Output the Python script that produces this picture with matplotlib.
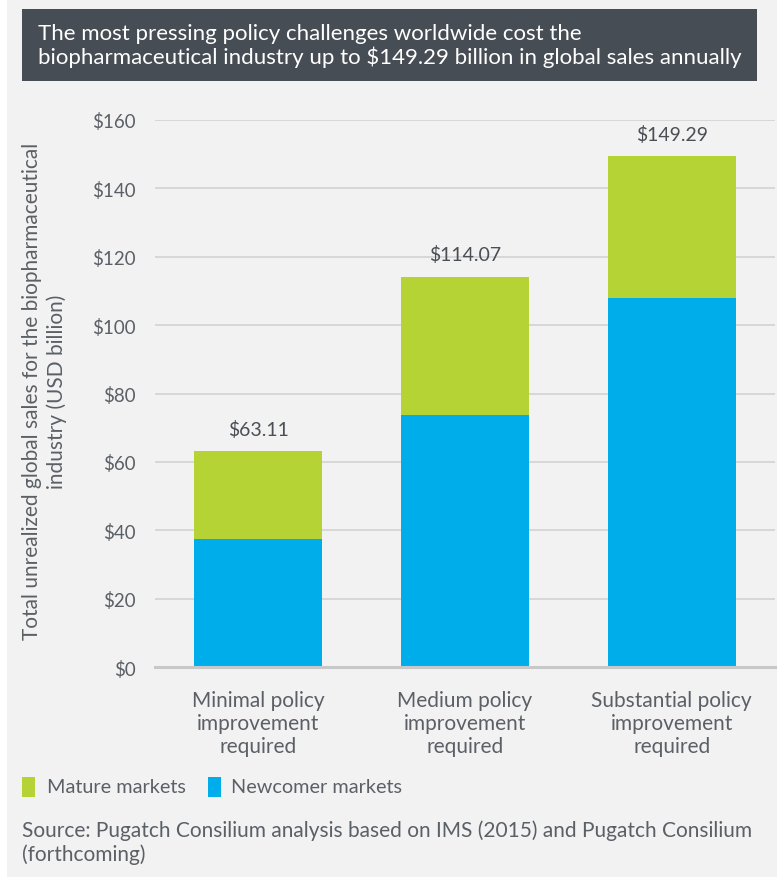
import matplotlib
matplotlib.use("Agg")
from matplotlib import pyplot as plt
from matplotlib.patches import Rectangle

plt.rcParams['font.family'] = ['Lato', 'DejaVu Sans']

#--- Data
categories = ["Minimal policy\nimprovement\nrequired",
              "Medium policy\nimprovement\nrequired",
              "Substantial policy\nimprovement\nrequired"]
newcomer = [37.5, 73.7, 107.8]
totals = [63.11, 114.07, 149.29]
mature = [t - n for t, n in zip(totals, newcomer)]
yticks = [0, 20, 40, 60, 80, 100, 120, 140, 160]

#--- Colors
bg = "#f2f2f2"
green = "#b5d334"
blue = "#00adeb"
text_gray = "#5b6067"

W, H = 777, 878
fig = plt.figure(figsize=(W / 100, H / 100), dpi=100)
fig.patch.set_facecolor("white")

# light background panel
fig.patches.append(Rectangle((7 / W, 0), 1 - 7 / W, 1, transform=fig.transFigure,
                             facecolor=bg, edgecolor="none", zorder=-2))
# title box
fig.patches.append(Rectangle((22 / W, 1 - 82 / H), (757 - 22) / W, 72 / H,
                             transform=fig.transFigure, facecolor="#474d54",
                             edgecolor="none", zorder=-1))
fig.text(38 / W, 1 - 46 / H,
         "The most pressing policy challenges worldwide cost the\n"
         "biopharmaceutical industry up to $149.29 billion in global sales annually",
         color="white", fontsize=16, ha="left", va="center", linespacing=1.2)

#--- Axes
ax = fig.add_axes([155 / W, 1 - 668.3 / H, 620 / W, (668.3 - 120.7) / H])
ax.set_facecolor(bg)
x = range(len(categories))
ax.bar(x, newcomer, width=0.62, color=blue, zorder=3, label="Newcomer markets")
ax.bar(x, mature, width=0.62, bottom=newcomer, color=green, zorder=3,
       label="Mature markets")

#--- Total labels above bars
for i, t in enumerate(totals):
    ax.text(i, t + 4.0, f"${t:.2f}", ha="center", va="bottom",
            fontsize=14, color="#4a4f55")

ax.set_xlim(-0.5, 2.5)
ax.set_ylim(0, 160)
ax.set_yticks(yticks)
ax.set_yticklabels([f"${v}" for v in yticks], fontsize=13.5, color=text_gray)
ax.set_xticks(list(x))
ax.set_xticklabels(categories, fontsize=15, color=text_gray, linespacing=1.2)
ax.tick_params(axis="both", length=0)
ax.tick_params(axis="y", pad=14)
ax.tick_params(axis="x", pad=16)
ax.grid(axis="y", color="#d2d2d2", linewidth=1.2, zorder=0)
for s in ["top", "right", "left"]:
    ax.spines[s].set_visible(False)
ax.spines["bottom"].set_color("#c8c8c8")
ax.spines["bottom"].set_linewidth(2.2)
ax.spines["bottom"].set_zorder(4)

ax.set_ylabel("Total unrealized global sales for the biopharmaceutical\nindustry (USD billion)",
              fontsize=15, color=text_gray, linespacing=1.25)
ax.yaxis.set_label_coords(-0.142, 0.505)

#--- Legend (manual)
fig.patches.append(Rectangle((22 / W, 1 - 798 / H), 13 / W, 20 / H,
                             transform=fig.transFigure, facecolor=green, edgecolor="none"))
fig.text(47 / W, 1 - 788 / H, "Mature markets", fontsize=14.3, color=text_gray,
         ha="left", va="center")
fig.patches.append(Rectangle((208 / W, 1 - 798 / H), 13 / W, 20 / H,
                             transform=fig.transFigure, facecolor=blue, edgecolor="none"))
fig.text(231 / W, 1 - 788 / H, "Newcomer markets", fontsize=14.3, color=text_gray,
         ha="left", va="center")

#--- Source
fig.text(22 / W, 1 - 843 / H,
         "Source: Pugatch Consilium analysis based on IMS (2015) and Pugatch Consilium\n(forthcoming)",
         fontsize=15, color=text_gray, ha="left", va="center", linespacing=1.2)

fig.savefig("out.png", dpi=100, facecolor=fig.get_facecolor())
